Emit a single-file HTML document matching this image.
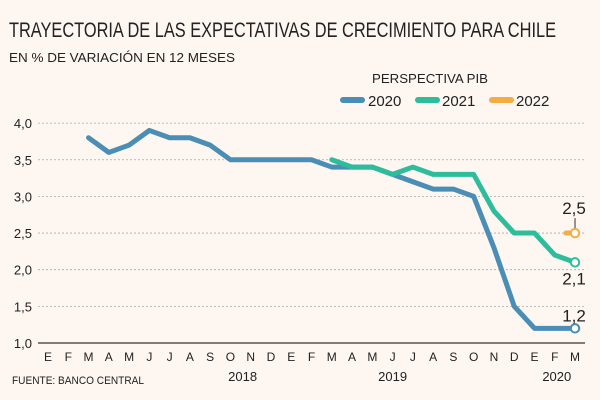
<!DOCTYPE html>
<html><head><meta charset="utf-8"><style>
html,body{margin:0;padding:0;background:#fdf6f1;}
svg{display:block;font-family:"Liberation Sans",sans-serif;}
</style></head><body>
<svg width="600" height="400" viewBox="0 0 600 400">
<rect width="600" height="400" fill="#fdf6f1"/>
<text x="9" y="37" font-size="21" fill="#222" textLength="547" lengthAdjust="spacingAndGlyphs">TRAYECTORIA DE LAS EXPECTATIVAS DE CRECIMIENTO PARA CHILE</text>
<text x="9" y="62" font-size="13" fill="#222" textLength="226" lengthAdjust="spacingAndGlyphs">EN % DE VARIACIÓN EN 12 MESES</text>
<text x="372" y="83" font-size="13" fill="#222" textLength="116" lengthAdjust="spacingAndGlyphs">PERSPECTIVA PIB</text>
<g>
<line x1="343" y1="100" x2="362" y2="100" stroke="#4a8db5" stroke-width="6" stroke-linecap="round"/>
<text x="368" y="106" font-size="15" fill="#222">2020</text>
<line x1="418" y1="100" x2="437" y2="100" stroke="#2dbd9b" stroke-width="6" stroke-linecap="round"/>
<text x="442" y="106" font-size="15" fill="#222">2021</text>
<line x1="492" y1="100" x2="511" y2="100" stroke="#f4ac43" stroke-width="6" stroke-linecap="round"/>
<text x="516" y="106" font-size="15" fill="#222">2022</text>
</g>
<g id="grid"></g><g id="xlabels"></g><g id="series"></g>
<text x="12" y="384" font-size="11" fill="#222" textLength="132" lengthAdjust="spacingAndGlyphs">FUENTE: BANCO CENTRAL</text>
</svg>
<script>
const yTicks=[4.0,3.5,3.0,2.5,2.0,1.5,1.0];
const yTickLabels=["4,0","3,5","3,0","2,5","2,0","1,5","1,0"];
const months=["E","F","M","A","M","J","J","A","S","O","N","D","E","F","M","A","M","J","J","A","S","O","N","D","E","F","M"];
const years=["2018","2019","2020"];
const yearCenters=[9.6,17,25.1];
const s2020start=2;
const s2020=[3.8,3.6,3.7,3.9,3.8,3.8,3.7,3.5,3.5,3.5,3.5,3.5,3.4,3.4,3.4,3.3,3.2,3.1,3.1,3.0,2.3,1.5,1.2,1.2,1.2];
const s2021start=14;
const s2021=[3.5,3.4,3.4,3.3,3.4,3.3,3.3,3.3,2.8,2.5,2.5,2.2,2.1];
const s2022start=26;
const s2022=[2.5];
const endLabels=["1,2","2,1","2,5"];

const NS="http://www.w3.org/2000/svg";
const X=i=>48+i*20.27;
const Y=v=>343-(v-1)*73.3;
function mk(t,a,p){const e=document.createElementNS(NS,t);for(const k in a)e.setAttribute(k,a[k]);p.appendChild(e);return e;}
const grid=document.getElementById('grid');
yTicks.forEach((v,i)=>{
  const base=v===1;
  const l=mk('line',{x1:38,x2:585,y1:Y(v),y2:Y(v),stroke:base?'#333':'#aaa','stroke-width':base?1.2:0.8,'stroke-dasharray':base?'none':'2,2'},grid);
  
  
  const t=mk('text',{x:32,y:Y(v)+5,'font-size':13,fill:'#222','text-anchor':'end'},grid);
  t.textContent=yTickLabels[i];
  
  
});
const xl=document.getElementById('xlabels');
months.forEach((m,i)=>{
  const t=mk('text',{x:X(i),y:361,'font-size':12,fill:'#222','text-anchor':'middle'},xl);
  t.textContent=m;
  
  
});
years.forEach((y,i)=>{
  const t=mk('text',{x:X(yearCenters[i]),y:381,'font-size':13,fill:'#222','text-anchor':'middle'},xl);
  t.textContent=y;
  
  
});
const sg=document.getElementById('series');
function line(vals,start,color,name){
  const pts=vals.map((v,i)=>X(start+i)+','+Y(v)).join(' ');
  if(vals.length>1){
    const p=mk('polyline',{points:pts,fill:'none',stroke:color,'stroke-width':5,'stroke-linejoin':'round','stroke-linecap':'round'},sg);
    
    
  } else {
    const p=mk('line',{x1:X(start)-9,x2:X(start),y1:Y(vals[0]),y2:Y(vals[0]),stroke:color,'stroke-width':5,'stroke-linecap':'round'},sg);
    
    
  }
  const li=vals.length-1;
  const c=mk('circle',{cx:X(start+li),cy:Y(vals[li]),r:4.2,fill:'#fff',stroke:color,'stroke-width':2},sg);
  
  
}
line(s2020,s2020start,'#4a8db5','line-2020');
line(s2021,s2021start,'#2dbd9b','line-2021');
line(s2022,s2022start,'#f4ac43','point-2022');
const lastIdx=26;
const e1=mk('text',{x:X(lastIdx)-1,y:Y(s2020[s2020.length-1])-7,'font-size':17,fill:'#222','text-anchor':'middle'},sg);
e1.textContent=endLabels[0];


const e2=mk('text',{x:X(lastIdx)-1,y:Y(s2021[s2021.length-1])+22,'font-size':17,fill:'#222','text-anchor':'middle'},sg);
e2.textContent=endLabels[1];


const e3=mk('text',{x:X(lastIdx)-1,y:Y(s2022[0])-19,'font-size':17,fill:'#222','text-anchor':'middle'},sg);
e3.textContent=endLabels[2];


const cn=mk('line',{x1:X(lastIdx),x2:X(lastIdx),y1:Y(s2022[0])-15,y2:Y(s2022[0])-5,stroke:'#333','stroke-width':1},sg);


</script>
</body></html>
